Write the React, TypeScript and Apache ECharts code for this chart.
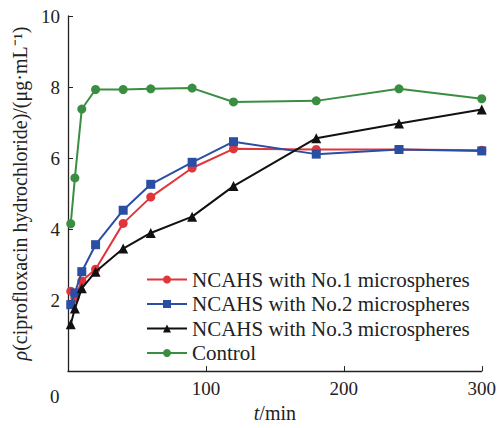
import React, { useEffect, useRef } from "react";
import * as echarts from "echarts";

const times = [2, 5, 10, 20, 40, 60, 90, 120, 180, 240, 300];
const seriesNames = [
  "NCAHS with No.1 microspheres",
  "NCAHS with No.2 microspheres",
  "NCAHS with No.3 microspheres",
  "Control",
];
const no1 = [2.25, 2.05, 2.54, 2.87, 4.16, 4.9, 5.72, 6.26, 6.24, 6.24, 6.22];
const no2 = [1.87, 2.2, 2.8, 3.56, 4.53, 5.26, 5.88, 6.46, 6.11, 6.24, 6.2];
const no3 = [1.32, 1.76, 2.33, 2.8, 3.45, 3.89, 4.35, 5.21, 6.56, 6.97, 7.37];
const control = [4.15, 5.44, 7.38, 7.93, 7.93, 7.95, 7.97, 7.58, 7.61, 7.95, 7.67];

const colors = ["#e2353a", "#2a4ea3", "#111111", "#3a8e42"];
const symbols = ["circle", "rect", "triangle", "circle"];
const values = [no1, no2, no3, control];

const FONT = "Liberation Serif";

export default function App() {
  const ref = useRef<HTMLDivElement>(null);
  useEffect(() => {
    if (!ref.current) return;
    const chart = echarts.init(ref.current, null, { renderer: "svg" });
    chart.setOption({
      animation: false,
      textStyle: { fontFamily: FONT, color: "#222" },
      grid: { left: 68, top: 16, width: 415, height: 365, containLabel: false },
      legend: {
        orient: "vertical",
        left: 146,
        top: 269,
        padding: 0,
        itemWidth: 40,
        itemHeight: 10,
        itemGap: 3.5,
        textStyle: { fontFamily: FONT, fontSize: 21, color: "#222", lineHeight: 21 },
        data: seriesNames,
      },
      xAxis: {
        type: "value",
        min: 0,
        max: 300,
        interval: 100,
        name: "{i|t}/min",
        nameLocation: "middle",
        nameGap: 27,
        nameTextStyle: {
          fontFamily: FONT,
          fontSize: 20,
          color: "#222",
          rich: { i: { fontFamily: FONT, fontSize: 20, fontStyle: "italic", color: "#222" } },
        },
        axisLine: { lineStyle: { color: "#222", width: 1.3 } },
        axisTick: { inside: true, length: 5, lineStyle: { color: "#222" } },
        axisLabel: {
          fontFamily: FONT,
          fontSize: 19,
          color: "#222",
          margin: 8,
          formatter: (v: number) => (v === 0 ? "" : String(v)),
        },
        splitLine: { show: false },
      },
      yAxis: {
        type: "value",
        min: 0,
        max: 10,
        interval: 2,
        name: "{i|ρ}(ciprofloxacin hydrochloride)/(μg·mL⁻¹)",
        nameLocation: "middle",
        nameGap: 35,
        nameTextStyle: {
          fontFamily: FONT,
          fontSize: 20,
          color: "#222",
          rich: { i: { fontFamily: FONT, fontSize: 20, fontStyle: "italic", color: "#222" } },
        },
        axisLine: { show: true, lineStyle: { color: "#222", width: 1.3 } },
        axisTick: { show: true, inside: true, length: 5, lineStyle: { color: "#222" } },
        axisLabel: {
          fontFamily: FONT,
          fontSize: 19,
          color: "#222",
          margin: 8,
          formatter: (v: number) => (v === 0 ? "" : String(v)),
        },
        splitLine: { show: false },
      },
      graphic: [
        {
          type: "text",
          left: 50,
          top: 387,
          style: { text: "0", fontFamily: FONT, fontSize: 19, fill: "#222" },
        },
      ],
      series: seriesNames.map((name, i) => ({
        name,
        type: "line",
        data: times.map((t, j) => [t, values[i][j]]),
        symbol: symbols[i],
        symbolSize: i === 2 ? 10 : 9,
        color: colors[i],
        lineStyle: { color: colors[i], width: 2 },
        itemStyle: { color: colors[i] },
        z: i === 3 ? 1 : 2 + i,
      })),
    });
    return () => chart.dispose();
  }, []);
  return (
    <div
      ref={ref}
      style={{ position: "absolute", left: 0, top: 0, width: 499, height: 428 }}
    />
  );
}
